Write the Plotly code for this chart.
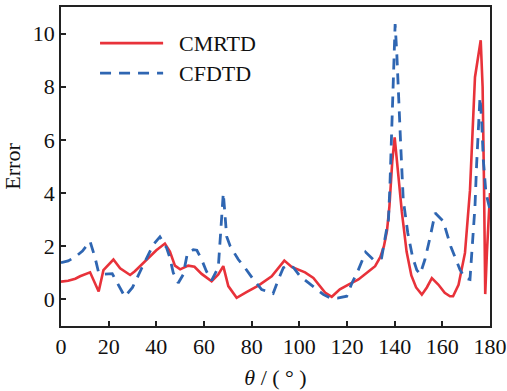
import plotly.graph_objects as go

theta_cmrtd = [0, 3, 6, 8, 12.2, 15.8, 17.8, 22, 24.8, 29, 31, 36, 40, 43.6, 45.7,
               47.8, 50, 53.4, 56, 59, 63.2, 66, 68.1, 70.2, 73.7, 78, 82.8, 88.4, 91, 93.7,
               96.8, 99.6, 102.4, 105.9, 108.7, 110.8, 113.6, 117, 120.6, 124.8, 129, 131.8,
               134, 135.5, 136.8, 137.8, 139, 140, 141.5, 143, 145, 147, 149, 151.4, 153.5,
               155.6, 158.3, 161, 163.2, 164.5, 166.8, 169.5, 171.6, 173.7, 176.1, 176.9,
               177.5, 178, 178.7, 180]
cmrtd = [0.67, 0.7, 0.78, 0.87, 1.02, 0.3, 1.1, 1.5, 1.17, 0.92, 1.06, 1.5, 1.85, 2.1, 1.8,
         1.27, 1.13, 1.27, 1.23, 0.96, 0.68, 0.94, 1.25, 0.5, 0.06, 0.28, 0.52, 0.87, 1.15, 1.46,
         1.22, 1.12, 1.02, 0.81, 0.5, 0.26, 0.1, 0.38, 0.56, 0.75, 1.05, 1.25,
         1.6, 2.0, 2.6, 3.5, 5.2, 6.1, 4.7, 3.3, 1.8, 0.9, 0.45, 0.18, 0.45,
         0.8, 0.56, 0.25, 0.12, 0.12, 0.55, 1.75, 4.1, 8.36, 9.75, 8.0,
         4.25, 0.2, 1.75, 4.0]

theta_cfdtd = [0, 3, 6, 9, 12.2, 14.3, 15.8, 18, 21.5, 24.5, 26.8, 30, 32, 34, 36, 38.7,
               41.5, 44.3, 45.7, 47.1, 49.2, 51.3, 53, 55.5, 57, 59, 61, 63.2, 66, 66.7,
               67.4, 68.1, 68.8, 69.5, 71, 74.4, 77.2, 80.7, 84.2, 89, 91.2, 93.3, 95.4,
               97.5, 100.3, 104.5, 110, 113, 116, 119.9, 122, 124.8, 127.8, 131, 134.5,
               136.6, 137.4, 138, 138.7, 139.5, 140.2, 140.9, 141.6, 142.5, 143.6, 145.5,
               147.5, 149.3, 150.7, 152.7, 154.8, 157, 160.4, 163.5, 167.4, 169.5, 171.6,
               172.3, 173.7, 174.4, 175.1, 175.8, 176.5, 177.2, 178.3, 180]
cfdtd = [1.38, 1.45, 1.6, 1.82, 2.18, 1.57, 1.0, 0.95, 0.97, 0.5, 0.1, 0.45, 0.85, 1.2, 1.56, 2.06,
         2.35, 1.94, 1.56, 1.0, 0.62, 0.94, 1.72, 1.87, 1.85, 1.5, 1.06, 0.72, 1.2, 2.18,
         3.25, 4.0, 3.2, 2.37, 2.0, 1.5, 1.19, 0.75, 0.37, 0.22, 0.75, 1.19, 1.3,
         1.2, 0.87, 0.56, 0.19, 0.05, 0.05, 0.12, 0.6, 1.12, 1.78, 1.5, 1.56,
         2.62, 3.0, 4.25, 6.5, 9.0, 10.36, 9.24, 7.5, 5.87, 3.75, 2.5,
         1.6, 1.1, 0.95, 1.5, 2.31, 3.25, 2.94, 2.0, 1.12, 0.8, 0.75,
         1.75, 3.5, 5.1, 6.5, 7.6, 6.74, 5.24, 4.0, 3.37]

x_ticks = [0, 20, 40, 60, 80, 100, 120, 140, 160, 180]
y_ticks = [0, 2, 4, 6, 8, 10]
series_names = ["CMRTD", "CFDTD"]

RED = "#e8323a"
BLUE = "#2f66b2"
AX = "#222222"
FONT = "Liberation Serif"
DASH = "11px,8px"

fig = go.Figure()
fig.add_trace(go.Scatter(x=theta_cmrtd, y=cmrtd, mode="lines", name=series_names[0],
                         line=dict(color=RED, width=2.6), showlegend=False))
fig.add_trace(go.Scatter(x=theta_cfdtd, y=cfdtd, mode="lines", name=series_names[1],
                         line=dict(color=BLUE, width=2.8, dash=DASH), showlegend=False))

# custom legend (long line samples like the reference)
leg = [(series_names[0], RED, "solid", 0.887), (series_names[1], BLUE, DASH, 0.793)]
for name, col, dash, yy in leg:
    fig.add_shape(type="line", xref="paper", yref="paper", x0=0.091, x1=0.238, y0=yy, y1=yy,
                  line=dict(color=col, width=2.8, dash=dash))
    fig.add_annotation(xref="paper", yref="paper", x=0.27, y=yy, text=name, showarrow=False,
                       xanchor="left", yanchor="middle",
                       font=dict(family=FONT, size=22, color="#111"))

fig.update_layout(
    width=507, height=391,
    margin=dict(l=61, r=17, t=7, b=65),
    paper_bgcolor="white", plot_bgcolor="white",
    font=dict(family=FONT, size=22, color="#111"),
    showlegend=False,
)
fig.update_xaxes(range=[0, 180], tickvals=x_ticks, ticks="inside", ticklen=5, tickwidth=1.5,
                 tickcolor=AX, showline=True, linecolor=AX, linewidth=1.8, mirror=True,
                 showgrid=False, zeroline=False, automargin=False,
                 title=dict(text="<i>θ</i> / ( ° )", font=dict(size=22), standoff=11))
fig.update_yaxes(range=[-1, 11], tickvals=y_ticks, ticks="inside", ticklen=5, tickwidth=1.5,
                 tickcolor=AX, showline=True, linecolor=AX, linewidth=1.8, mirror=True,
                 showgrid=False, zeroline=False, automargin=False,
                 title=dict(text="Error", font=dict(size=22), standoff=7))

fig.write_html("out.html")
